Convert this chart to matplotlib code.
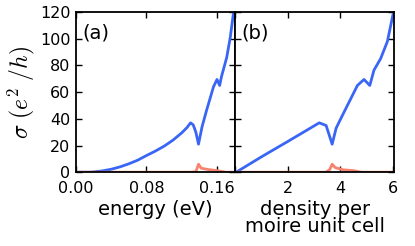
import numpy as np
import matplotlib
matplotlib.use("Agg")
import matplotlib.pyplot as plt

plt.rcParams["mathtext.fontset"] = "cm"
plt.rcParams["font.family"] = "DejaVu Sans"

TICK_SIZE = 11.5
LABEL_SIZE = 14
BLUE = "#3a66f5"
RED = "#f7836f"

# (a) conductivity vs energy
energy = [0.0, 0.016, 0.02, 0.03, 0.04, 0.05, 0.06, 0.07, 0.08, 0.09, 0.10,
          0.11, 0.12, 0.126, 0.130, 0.133, 0.136, 0.139, 0.143, 0.148, 0.156,
          0.160, 0.163, 0.165, 0.171, 0.175, 0.1786, 0.181]
sigma_a = [0.0, 0.0, 0.2, 1.0, 2.2, 4.0, 6.3, 9.0, 12.5, 15.8, 19.5,
           24.0, 29.5, 33.5, 37.0, 35.5, 30.0, 21.0, 34.0, 46.0, 64.0,
           69.5, 65.0, 71.5, 86.0, 101.0, 119.0, 128.0]
energy_r = [0.0, 0.130, 0.136, 0.139, 0.142, 0.150, 0.160, 0.170, 0.181]
sigma_a_r = [0.0, 0.0, 0.3, 6.0, 3.0, 2.0, 1.2, 0.0, 0.0]

# (b) conductivity vs density
density = [0.0, 0.04, 1.0, 2.0, 3.2, 3.46, 3.69, 3.84, 4.09, 4.65,
           4.9, 5.12, 5.28, 5.53, 5.79, 6.0]
sigma_b = [0.0, 0.0, 11.5, 23.0, 37.0, 35.0, 21.0, 33.0, 43.0, 65.0,
           69.5, 65.0, 76.5, 85.0, 98.0, 118.0]
density_r = [0.0, 3.45, 3.6, 3.69, 3.8, 4.1, 4.5, 4.8, 6.0]
sigma_b_r = [0.0, 0.0, 2.0, 6.0, 3.5, 1.8, 1.2, 0.0, 0.0]

fig, axs = plt.subplots(1, 2, figsize=(4.15, 2.46), dpi=100, sharey=True)
fig.subplots_adjust(left=0.183, right=0.950, top=0.951, bottom=0.300, wspace=0)

axs[0].plot(energy, sigma_a, color=BLUE, lw=2)
axs[0].plot(energy_r, sigma_a_r, color=RED, lw=2)
axs[1].plot(density, sigma_b, color=BLUE, lw=2)
axs[1].plot(density_r, sigma_b_r, color=RED, lw=2)

axs[0].set_xlim(0, 0.1805)
axs[0].set_xticks([0.0, 0.08, 0.16])
axs[0].set_xticklabels(["0.00", "0.08", "0.16"])
axs[1].set_xlim(0, 6.05)
axs[1].set_xticks([0, 2, 4, 6])
axs[1].set_xticklabels(["", "2", "4", "6"])
axs[0].set_ylim(0, 120)
axs[0].set_yticks(range(0, 121, 20))

for ax in axs:
    ax.tick_params(direction="in", top=True, right=True, labelsize=TICK_SIZE,
                   length=4, width=1, pad=4)
    ax.tick_params(axis="x", pad=6)
    for sp in ax.spines.values():
        sp.set_linewidth(1.3)
axs[1].tick_params(labelleft=False)

axs[0].set_ylabel(r"$\sigma\ (e^2\ /h)$", fontsize=17, labelpad=2)
axs[0].set_xlabel("energy (eV)", fontsize=LABEL_SIZE, labelpad=3)
axs[1].set_xlabel("density per\nmoire unit cell", fontsize=LABEL_SIZE,
                  linespacing=0.9, labelpad=3)

axs[0].text(0.04, 0.93, "(a)", transform=axs[0].transAxes, fontsize=LABEL_SIZE, va="top")
axs[1].text(0.04, 0.93, "(b)", transform=axs[1].transAxes, fontsize=LABEL_SIZE, va="top")

plt.savefig("out.png", dpi=100)
